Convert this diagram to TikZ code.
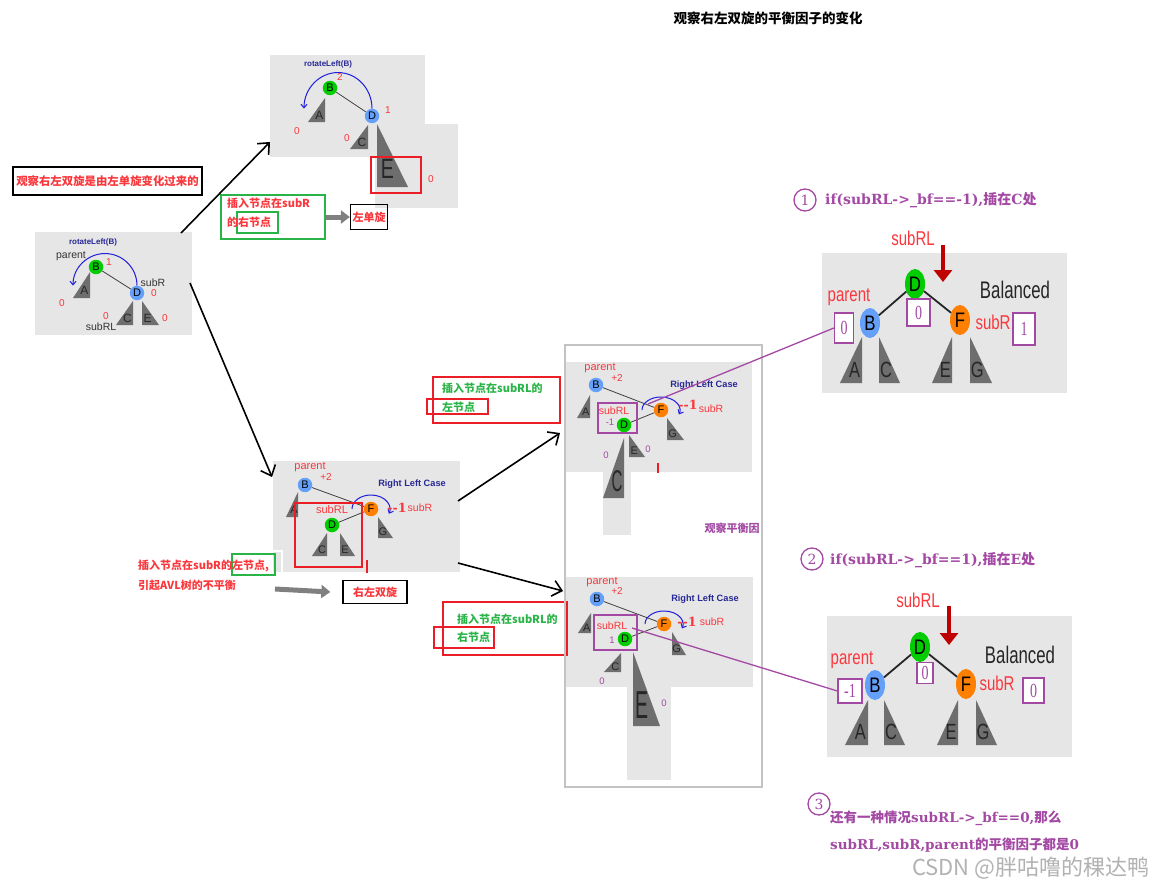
\documentclass[tikz,border=0pt]{standalone}
\usepackage{fontspec}
\setmainfont{Liberation Sans}
\newfontfamily\cjk{Noto Sans CJK SC}
\newfontfamily\dserif{DejaVu Serif}
\newfontfamily\lserif{Liberation Serif}
\usepackage{graphicx}
\usepackage{xcolor}
\usepackage{tikz}
\usetikzlibrary{arrows.meta, positioning, calc, shapes.geometric}

\definecolor{panelgray}{RGB}{230,230,230}
\definecolor{ngreen}{RGB}{0,204,0}
\definecolor{nblue}{RGB}{100,160,250}
\definecolor{norange}{RGB}{255,128,0}
\definecolor{lblred}{RGB}{250,55,60}
\definecolor{navyblue}{RGB}{40,40,150}
\definecolor{arcblue}{RGB}{30,30,220}
\definecolor{boxgreen}{RGB}{40,180,70}
\definecolor{boxred}{RGB}{235,30,40}
\definecolor{bfpurple}{RGB}{163,73,164}
\definecolor{trigray}{RGB}{110,110,110}
\definecolor{darkred}{RGB}{190,0,0}
\definecolor{framegray}{RGB}{195,195,195}

\newcommand{\fsz}[1]{\fontsize{#1}{#1}\selectfont}
\newcommand{\nar}[2][0.75]{\scalebox{#1}[1]{#2}}
% subtree: apex x, apex y, signed width, height, name, font, label
\newcommand{\subtree}[7]{%
  \fill[trigray] (#1,#2) -- ++(0,#4) -- ++(#3,0) -- cycle;
  \node[trilbl, font=#6] (#5) at ({#1+(#3)/3},{#2+0.72*(#4)}) {#7};}

\begin{document}
\begin{tikzpicture}[x=1pt, y=-1pt,
  panel/.style={fill=panelgray},
  tnode/.style={circle, minimum size=14.5pt, inner sep=0pt, font=\fsz{11}},
  enode/.style={ellipse, minimum width=20pt, minimum height=30pt, inner sep=0pt, font=\fsz{21}},
  edge/.style={draw=black!75, line width=0.8pt},
  bigedge/.style={draw=black!85, line width=1.8pt},
  rotarc/.style={draw=arcblue, line width=1pt, -{Straight Barb[length=3.5pt,width=6pt]}},
  trilbl/.style={inner sep=0pt, text=black!85},
  redlbl/.style={inner sep=0pt, text=lblred, font=\fsz{10}},
  darklbl/.style={inner sep=0pt, text=black!80, font=\fsz{10.5}},
  purlbl/.style={inner sep=0pt, text=bfpurple, font=\fsz{9.5}},
  rottxt/.style={inner sep=0pt, text=navyblue, font=\bfseries\fsz{8}},
  casetxt/.style={inner sep=0pt, text=navyblue, font=\bfseries\fsz{9.2}},
  minusone/.style={inner sep=0pt, text=lblred, font=\dserif\bfseries\fsz{12.5}},
  cjktxt/.style={inner sep=0pt, anchor=west, font=\cjk\bfseries\fsz{11}},
  gbox/.style={draw=boxgreen, line width=1.2pt},
  rbox/.style={draw=boxred, line width=1.3pt},
  pbox/.style={draw=bfpurple, line width=1.2pt},
  bfnum/.style={pbox, fill=white, inner sep=0pt, text=bfpurple, font=\lserif\fsz{20}},
  cnum/.style={circle, draw=bfpurple, line width=1.3pt, minimum size=22pt, inner sep=0pt, text=bfpurple, font=\dserif\fsz{14}},
  condtxt/.style={inner sep=0pt, anchor=west, text=bfpurple, font=\dserif\bfseries\fsz{14}},
  blackbox/.style={draw=black, line width=1.3pt, inner sep=0pt, text=lblred, font=\cjk\bfseries\fsz{11}},
  panelarrow/.style={draw=black, line width=1.6pt, -{Straight Barb[length=9pt,width=16pt]}},
  grayarrow/.style={draw=gray, line width=5pt, -{Triangle[length=9pt,width=13pt]}},
  downarrow/.style={draw=darkred, line width=3.5pt, -{Triangle[length=12pt,width=18pt]}},
  purline/.style={draw=bfpurple, line width=1.3pt},
  redtick/.style={draw=boxred, line width=2pt}]

  \useasboundingbox (0,0) rectangle (1157,891);
  \fill[white] (0,0) rectangle (1157,891);

  % Title
  \node[inner sep=0pt, font=\cjk\bfseries\fsz{13.5}] (title) at (768,18) {观察右左双旋的平衡因子的变化};

  % Note
  \node[blackbox, minimum width=189pt, minimum height=28pt, font=\cjk\bfseries\fsz{11.4}] (note) at (107.5,181) {观察右左双旋是由左单旋变化过来的};

  % --- Left tree ---
  \fill[panel] (35,232) rectangle (192,335);
  \node[rottxt] (lrot) at (93,242) {rotateLeft(B)};
  \subtree{90}{272}{-17}{26}{lA}{\fsz{12}}{A}
  \subtree{133}{301}{-17}{24}{lC}{\fsz{12}}{C}
  \subtree{142}{301}{17}{24}{lE}{\fsz{12}}{E}
  \node[tnode, fill=ngreen] (lB) at (96,267) {B};
  \node[tnode, fill=nblue] (lD) at (137,293) {D};
  \draw[edge] (lB) -- (lD);
  \draw[rotarc] (lD.north) arc[start angle=0, end angle=-180, radius=32];
  \node[darklbl] (lpar) at (71,256) {parent};
  \node[redlbl] (lbfB) at (109,262) {1};
  \node[darklbl] (lsubR) at (153,283) {subR};
  \node[redlbl] (lbfD) at (154,293) {0};
  \node[redlbl] (lbfA) at (62,303) {0};
  \node[redlbl] (lbfC) at (106,316) {0};
  \node[redlbl] (lbfE) at (165,318) {0};
  \node[darklbl] (lsubRL) at (101,327) {subRL};

  % --- Left rotation ---
  \fill[panel] (270,55) rectangle (425,157);
  \fill[panel] (375,124) rectangle (458,208);
  \node[rottxt] (trot) at (328,64) {rotateLeft(B)};
  \subtree{325}{98}{-17}{24}{tA}{\fsz{12}}{A}
  \subtree{368}{125}{-18}{24}{tC}{\fsz{12}}{C}
  \subtree{377}{124}{31}{63}{tE}{\fsz{28}}{\nar[0.7]{E}}
  \node[tnode, fill=ngreen] (tB) at (330,88) {B};
  \node[tnode, fill=nblue] (tD) at (372,116) {D};
  \draw[edge] (tB) -- (tD);
  \draw[rotarc] (tD.north) arc[start angle=0, end angle=-180, x radius=34, y radius=36];
  \node[redlbl] (tbfB) at (340,77) {2};
  \node[redlbl] (tbfD) at (388,110) {1};
  \node[redlbl] (tbfA) at (297,131) {0};
  \node[redlbl] (tbfC) at (347,138) {0};
  \node[redlbl] (tbfE) at (431,179) {0};
  \draw[rbox] (371,157) rectangle (421,193);

  \node[gbox, minimum width=104pt, minimum height=44pt] (ins1) at (273,217) {};
  \draw[gbox] (237,212) rectangle (278,233);
  \node[cjktxt, text=lblred] (ins1a) at (227,203) {插入节点在subR};
  \node[cjktxt, text=lblred] (ins1b) at (227,222) {的右节点};
  \node[blackbox, minimum width=37pt, minimum height=25pt] (zdx) at (369,217) {左单旋};
  \draw[grayarrow] (ins1.east) -- (zdx.west);

  % --- Right left case ---
  \fill[panel] (273,461) rectangle (460,572);
  \subtree{298}{492}{-12}{25}{mA}{\fsz{11}}{A}
  \subtree{327}{533}{-15}{23}{mC}{\fsz{11}}{C}
  \subtree{340}{533}{15}{23}{mE}{\fsz{11}}{E}
  \subtree{378}{517}{15}{21}{mG}{\fsz{11}}{G}
  \node[tnode, fill=nblue] (mB) at (305,485) {B};
  \node[tnode, fill=norange] (mF) at (371,509) {F};
  \node[tnode, fill=ngreen] (mD) at (332,525) {D};
  \draw[edge] (mB) -- (mF);
  \draw[edge] (mD) -- (mF);
  \draw[rotarc] ([xshift=-19pt]mF.center) arc[start angle=180, end angle=380, x radius=19, y radius=14];
  \node[redlbl, font=\fsz{11}] (mpar) at (310,467) {parent};
  \node[redlbl] (mbfB) at (326,477) {+2};
  \node[casetxt] (mcase) at (412,484) {Right Left Case};
  \node[minusone] (mbfF) at (397,508) {--1};
  \node[redlbl, font=\fsz{10.5}] (msubR) at (420,508) {subR};
  \node[redlbl, font=\fsz{11}] (msubRL) at (332,510) {subRL};
  \draw[rbox] (295,503) rectangle (362,567);
  \draw[redtick] (367,560) -- (367,573);

  \node[draw=boxgreen, line width=0.8pt, double=white, double distance=1.2pt, minimum width=150pt, minimum height=28pt] (ins2) at (207,565) {};
  \draw[gbox] (232,554) rectangle (275,575);
  \node[cjktxt, text=lblred] (ins2a) at (138,566) {插入节点在subR的左节点,};
  \node[cjktxt, text=lblred] (ins2b) at (138,585) {引起AVL树的不平衡};
  \node[blackbox, minimum width=64pt, minimum height=23pt] (yzsx) at (375,592) {右左双旋};
  \coordinate (g2s) at (275,589);
  \draw[grayarrow] (g2s) -- ([xshift=-12pt]yzsx.west);

  % --- Insert at C ---
  \fill[panel] (564,362) rectangle (752,472);
  \fill[panel] (603,472) rectangle (631,535);
  \subtree{590}{395}{-13}{23}{uA}{\fsz{11}}{A}
  \subtree{624}{438}{-21}{60}{uC}{\fsz{30}}{\nar[0.5]{C}}
  \subtree{629}{435}{16}{22}{uE}{\fsz{11}}{E}
  \subtree{667}{418}{17}{22}{uG}{\fsz{11}}{G}
  \node[tnode, fill=nblue] (uB) at (596,385) {B};
  \node[tnode, fill=norange] (uF) at (661,410) {F};
  \node[tnode, fill=ngreen] (uD) at (624,425) {D};
  \draw[edge] (uB) -- (uF);
  \draw[edge] (uD) -- (uF);
  \draw[pbox] (598,403) rectangle (637,433);
  \draw[rotarc] ([xshift=-19pt]uF.center) arc[start angle=180, end angle=380, x radius=19, y radius=13];
  \node[redlbl, font=\fsz{11}] (upar) at (600,368) {parent};
  \node[redlbl] (ubfB) at (617,378) {+2};
  \node[casetxt] (ucase) at (704,385) {Right Left Case};
  \node[minusone] (ubfF) at (688,405) {--1};
  \node[redlbl, font=\fsz{10.5}] (usubR) at (711,409) {subR};
  \node[redlbl, font=\fsz{10.5}] (usubRL) at (614,411) {subRL};
  \node[purlbl] (ubfD) at (610,422) {-1};
  \node[purlbl] (ubfC) at (606,455) {0};
  \node[purlbl] (ubfE) at (648,449) {0};
  \draw[redtick] (658,463) -- (658,473);

  \node[rbox, minimum width=127pt, minimum height=46pt] (ins3) at (496.5,400) {};
  \draw[rbox] (427,399) rectangle (488,414);
  \node[cjktxt, text=boxgreen] (ins3a) at (442,388) {插入节点在subRL的};
  \node[cjktxt, text=boxgreen] (ins3b) at (442,407) {左节点};

  % --- Insert at E ---
  \fill[panel] (565,577) rectangle (753,687);
  \fill[panel] (627,687) rectangle (671,780);
  \subtree{591}{613}{-13}{20}{dA}{\fsz{11}}{A}
  \subtree{621}{653}{-17}{19}{dC}{\fsz{11}}{C}
  \subtree{633}{652}{27}{74}{dE}{\fsz{39}}{\nar[0.5]{E}}
  \subtree{672}{632}{14}{23}{dG}{\fsz{11}}{G}
  \node[tnode, fill=nblue] (dB) at (597,599) {B};
  \node[tnode, fill=norange] (dF) at (664,624) {F};
  \node[tnode, fill=ngreen] (dD) at (625,639) {D};
  \draw[edge] (dB) -- (dF);
  \draw[edge] (dD) -- (dF);
  \draw[pbox] (594,615) rectangle (637,650);
  \draw[rotarc] ([xshift=-19pt]dF.center) arc[start angle=180, end angle=380, x radius=19, y radius=13];
  \node[redlbl, font=\fsz{11}] (dpar) at (602,582) {parent};
  \node[redlbl] (dbfB) at (617,591) {+2};
  \node[casetxt] (dcase) at (705,599) {Right Left Case};
  \node[minusone] (dbfF) at (687,622) {--1};
  \node[redlbl, font=\fsz{10.5}] (dsubR) at (712,622) {subR};
  \node[redlbl, font=\fsz{10.5}] (dsubRL) at (612,626) {subRL};
  \node[purlbl] (dbfD) at (612,640) {1};
  \node[purlbl] (dbfC) at (602,681) {0};
  \node[purlbl] (dbfE) at (664,703) {0};

  \node[rbox, minimum width=124pt, minimum height=53pt] (ins4) at (505,628.5) {};
  \draw[rbox] (434,627) rectangle (494,648);
  \node[cjktxt, text=boxgreen] (ins4a) at (457,619) {插入节点在subRL的};
  \node[cjktxt, text=boxgreen] (ins4b) at (457,637) {右节点};

  \draw[draw=framegray, line width=1.5pt] (565,345) rectangle (762,787);
  \node[inner sep=0pt, text=bfpurple, font=\cjk\bfseries\fsz{11}] (obs) at (732,528) {观察平衡因};

  % Arrows between steps
  \coordinate (a1s) at (181,233); \coordinate (a1e) at (270,142);
  \coordinate (a2s) at (190,283); \coordinate (a2e) at (272,477);
  \coordinate (a3s) at (458,501); \coordinate (a3e) at (560,433);
  \coordinate (a4s) at (458,563); \coordinate (a4e) at (563,591);
  \draw[panelarrow] (a1s) -- (a1e);
  \draw[panelarrow] (a2s) -- (a2e);
  \draw[panelarrow] (a3s) -- (a3e);
  \draw[panelarrow] (a4s) -- (a4e);

  % --- Case 1 ---
  \node[cnum] (n1) at (805,200) {1};
  \node[condtxt] (cond1) at (825,200) {if(subRL->\_bf==-1),{\cjk 插在}C{\cjk 处}};
  \fill[panel] (822,253) rectangle (1067,393);
  \subtree{862}{337}{-22}{46}{rA}{\fsz{22}}{\nar{A}}
  \subtree{879}{337}{21}{46}{rC}{\fsz{22}}{\nar{C}}
  \subtree{952}{337}{-20}{46}{rE}{\fsz{22}}{\nar{E}}
  \subtree{970}{337}{22}{46}{rG}{\fsz{22}}{\nar{G}}
  \node[enode, fill=ngreen] (rD) at (915,284) {\nar[0.8]{D}};
  \node[enode, fill=nblue] (rB) at (870,323) {\nar[0.8]{B}};
  \node[enode, fill=norange] (rF) at (960,320) {\nar[0.8]{F}};
  \draw[bigedge] (rD) -- (rB);
  \draw[bigedge] (rD) -- (rF);
  \node[redlbl, font=\fsz{20}] (rsubRL) at (913,238) {\nar{subRL}};
  \coordinate (rarr) at (943,245);
  \draw[downarrow] (rarr) -- ++(0,37);
  \node[inner sep=0pt, text=black!85, font=\fsz{24}] (rbal) at (1015,290) {\nar[0.7]{Balanced}};
  \node[redlbl, font=\fsz{20}] (rpar) at (849,297) {\nar{parent}};
  \node[redlbl, font=\fsz{20}] (rsubR) at (993,322) {\nar{subR}};
  \node[bfnum, minimum width=19pt, minimum height=30pt] (rbfB) at (844,328) {\nar[0.7]{0}};
  \node[bfnum, minimum width=23pt, minimum height=27pt] (rbfD) at (918.5,312.5) {\nar[0.7]{0}};
  \node[bfnum, minimum width=22pt, minimum height=32pt] (rbfF) at (1024,329) {\nar[0.7]{1}};
  \coordinate (pl1) at (648,404);
  \draw[purline] (pl1) -- (rbfB.west);

  % --- Case 2 ---
  \node[cnum] (n2) at (812,559) {2};
  \node[condtxt] (cond2) at (830,560) {if(subRL->\_bf==1),{\cjk 插在}E{\cjk 处}};
  \fill[panel] (827,616) rectangle (1072,757);
  \subtree{868}{700}{-23}{45}{sA}{\fsz{22}}{\nar{A}}
  \subtree{884}{700}{21}{45}{sC}{\fsz{22}}{\nar{C}}
  \subtree{958}{700}{-21}{45}{sE}{\fsz{22}}{\nar{E}}
  \subtree{976}{700}{21}{45}{sG}{\fsz{22}}{\nar{G}}
  \node[enode, fill=ngreen] (sD) at (920,647) {\nar[0.8]{D}};
  \node[enode, fill=nblue] (sB) at (875,685) {\nar[0.8]{B}};
  \node[enode, fill=norange] (sF) at (966,684) {\nar[0.8]{F}};
  \draw[bigedge] (sD) -- (sB);
  \draw[bigedge] (sD) -- (sF);
  \node[redlbl, font=\fsz{20}] (ssubRL) at (918,600) {\nar{subRL}};
  \coordinate (sarr) at (949,606);
  \draw[downarrow] (sarr) -- ++(0,39);
  \node[inner sep=0pt, text=black!85, font=\fsz{24}] (sbal) at (1020,655) {\nar[0.7]{Balanced}};
  \node[redlbl, font=\fsz{20}] (spar) at (852,660) {\nar{parent}};
  \node[redlbl, font=\fsz{20}] (ssubR) at (997,683) {\nar{subR}};
  \node[bfnum, minimum width=24pt, minimum height=24pt] (sbfB) at (850,691) {\nar[0.7]{-1}};
  \node[bfnum, minimum width=16pt, minimum height=21pt] (sbfD) at (925,673) {\nar[0.7]{0}};
  \node[bfnum, minimum width=21pt, minimum height=25pt] (sbfF) at (1033.5,690.5) {\nar[0.7]{0}};
  \coordinate (pl2) at (632,628);
  \draw[purline] (pl2) -- (sbfB.west);

  % --- Case 3 ---
  \node[cnum] (n3) at (819,804) {3};
  \node[condtxt, font=\dserif\bfseries\fsz{13.5}] (cond3a) at (830,818) {{\cjk 还有一种情况}subRL->\_bf==0,{\cjk 那么}};
  \node[condtxt, font=\dserif\bfseries\fsz{13.5}] (cond3b) at (830,845) {subRL,subR,parent{\cjk 的平衡因子都是}0};
  \node[inner sep=0pt, anchor=west, text=black!30, font=\cjk\fsz{22}] (wm) at (912,868) {CSDN @胖咕噜的稞达鸭};

\end{tikzpicture}
\end{document}
